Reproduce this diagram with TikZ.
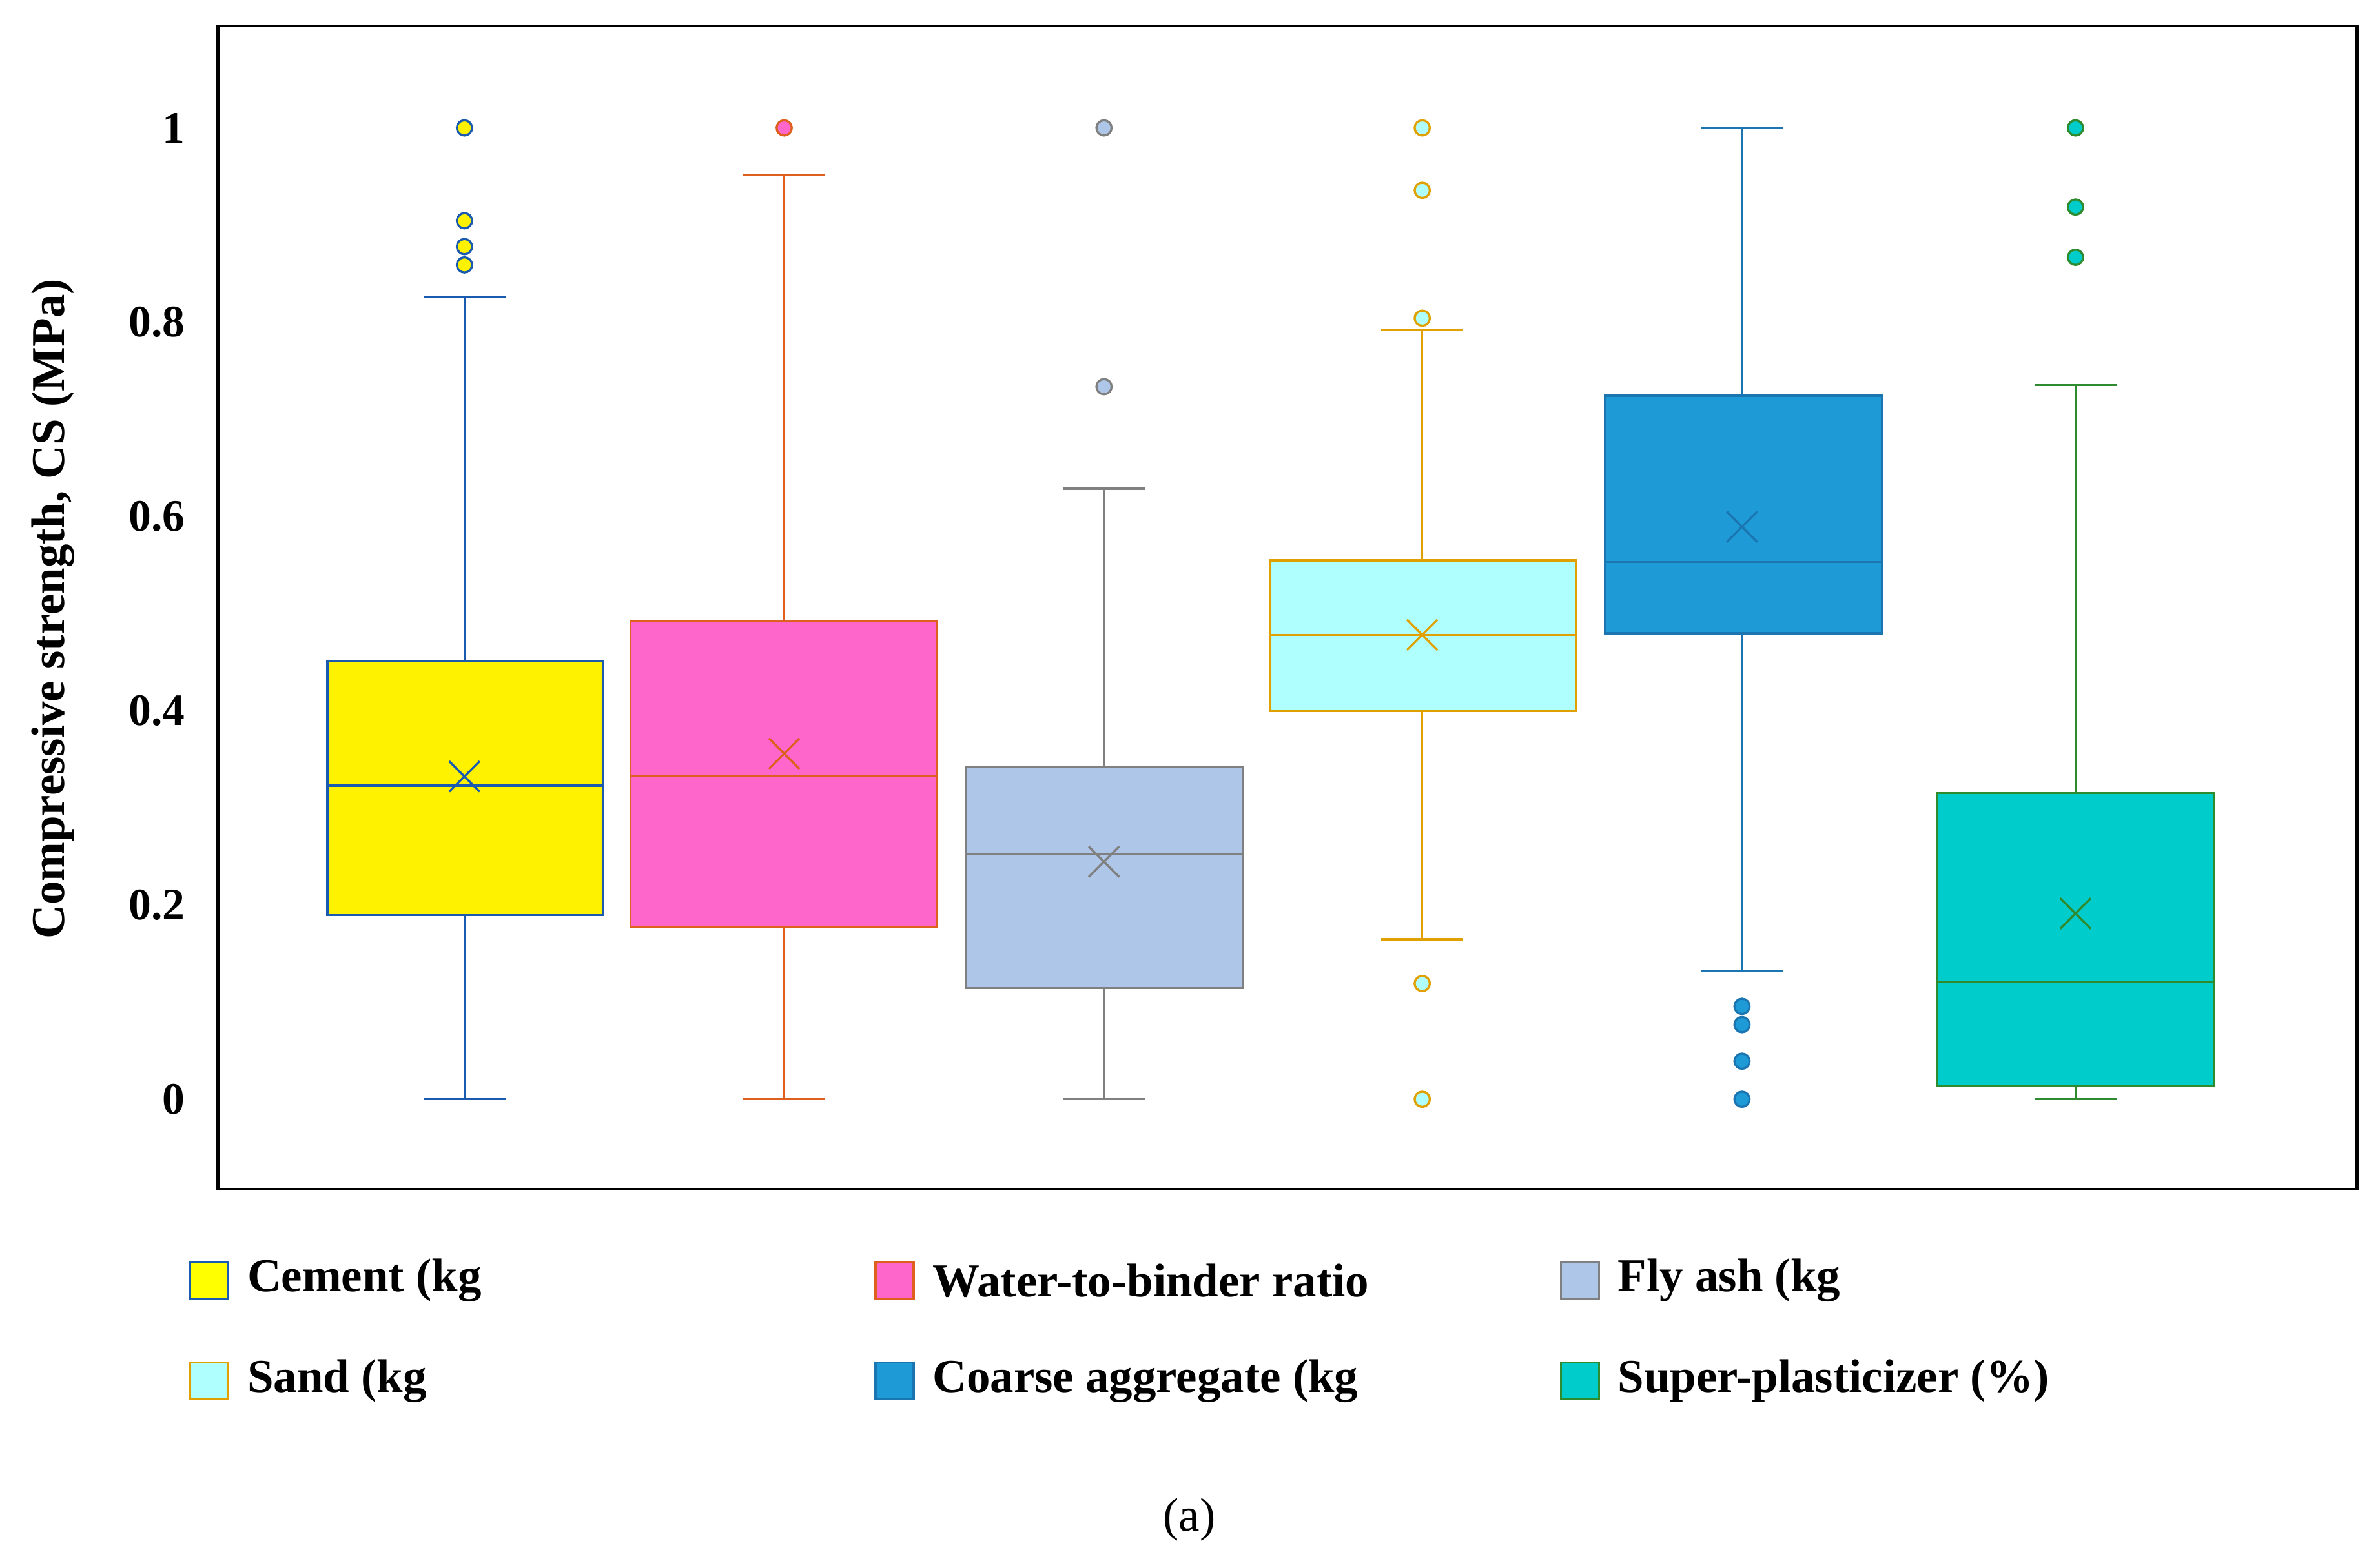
\documentclass[tikz,border=0pt]{standalone}
\usepackage{fontspec}
\setmainfont{Liberation Serif}
\begin{document}
\begin{tikzpicture}[x=0.05cm,y=-0.05cm,
  lab/.style={font=\fontsize{44}{50}\selectfont\bfseries},
  tick/.style={font=\fontsize{42}{50}\selectfont\bfseries,anchor=east}]
\useasboundingbox (0,0) rectangle (1563,1025);
\fill[white] (0,0) rectangle (1563,1025);
\draw[line width=2.8pt] (143,17) rectangle (1548,781);
\foreach \v/\t in {0/0,0.2/0.2,0.4/0.4,0.6/0.6,0.8/0.8,1/1}
  \node[tick] at (124,{722-638*\v}) {\t};
\node[lab,rotate=90] at (35,400) {Compressive strength, CS (MPa)};
% box macro: center, left, right, q1, q3, med, wlo, whi, mean, fill, edge, outliers
\newcommand\mybox[9]{%
  \draw[#9,line width=2pt] (#1,#7) -- (#1,#5) (#1,#4) -- (#1,#8)
     ({#1-27},#7) -- ({#1+27},#7) ({#1-27},#8) -- ({#1+27},#8);
  \filldraw[fill=#9!0,draw=#9,line width=2pt,fill=fc] (#2,#4) rectangle (#3,#5);
  \draw[#9,line width=2pt] (#2,#6) -- (#3,#6);
}
\newcommand\mymean[3]{\draw[#3,line width=2pt] ({#1-10},{#2-10}) -- ({#1+10},{#2+10}) ({#1-10},{#2+10}) -- ({#1+10},{#2-10});}
\newcommand\myout[4]{\foreach \y in {#2} \filldraw[fill=#3,draw=#4,line width=2pt] (#1,\y) circle (5);}
% Cement
\colorlet{fc}{yellow}\definecolor{ec}{HTML}{1A5BB0}
\mybox{305}{215}{396}{601}{434}{516}{722}{195}{ec}
\mymean{305}{510}{ec}\myout{305}{84,145,162,174}{yellow}{ec}
% Water
\definecolor{fc}{HTML}{FF66CC}\definecolor{ec}{HTML}{DE5F1E}
\mybox{515}{414}{615}{609}{408}{510}{722}{115}{ec}
\mymean{515}{495}{ec}\myout{515}{84}{fc}{ec}
% Fly ash
\definecolor{fc}{HTML}{AEC7E8}\definecolor{ec}{HTML}{808080}
\mybox{725}{634}{816}{649}{504}{561}{722}{321}{ec}
\mymean{725}{566}{ec}\myout{725}{84,254}{fc}{ec}
% Sand
\definecolor{fc}{HTML}{B0FFFF}\definecolor{ec}{HTML}{E0A000}
\mybox{934}{834}{1035}{467}{368}{417}{617}{217}{ec}
\mymean{934}{417}{ec}\myout{934}{84,125,209,646,722}{fc}{ec}
% Coarse
\definecolor{fc}{HTML}{1E9BD7}\definecolor{ec}{HTML}{1A75B0}
\mybox{1144}{1054}{1236}{416}{260}{369}{638}{84}{ec}
\mymean{1144}{346}{ec}\myout{1144}{661,673,697,722}{fc}{ec}
% Super
\definecolor{fc}{HTML}{00CCCC}\definecolor{ec}{HTML}{2E8B2E}
\mybox{1363}{1272}{1454}{713}{521}{645}{722}{253}{ec}
\mymean{1363}{600}{ec}\myout{1363}{84,136,169}{fc}{ec}
% legend
\foreach \x/\y/\f/\e/\t in {
 125/841/FFFF00/1A5BB0/Cement (kg/m³),
 575/841/FF66CC/DE5F1E/Water-to-binder ratio,
 1025/841/AEC7E8/808080/Fly ash (kg/m³),
 125/907/B0FFFF/E0A000/Sand (kg/m³),
 575/907/1E9BD7/1A75B0/Coarse aggregate (kg/m³),
 1025/907/00CCCC/2E8B2E/Super-plasticizer (\%)}{
  \definecolor{lf}{HTML}{\f}\definecolor{le}{HTML}{\e}
  \filldraw[fill=lf,draw=le,line width=2pt] (\x,{\y-12}) rectangle ({\x+25},{\y+12});
  \node[lab,anchor=west] at ({\x+35},\y) {\t};
}
\node[font=\fontsize{44}{50}\selectfont] at (781,998) {(a)};
\end{tikzpicture}
\end{document}
